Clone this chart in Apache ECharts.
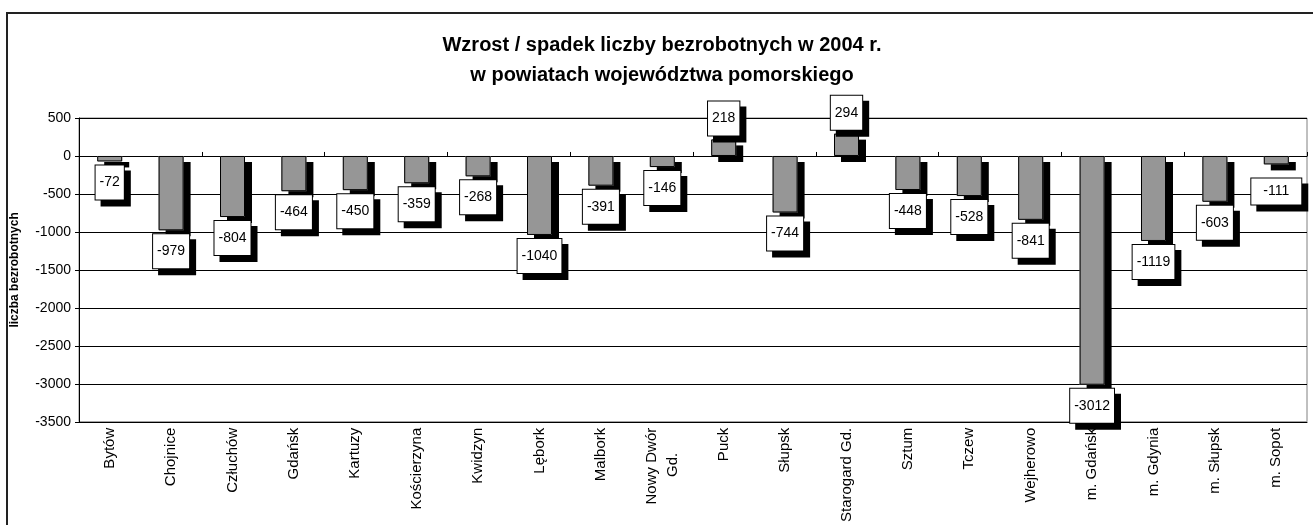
<!DOCTYPE html>
<html lang="pl">
<head>
    <meta charset="UTF-8"/>
    <title>Wzrost / spadek liczby bezrobotnych</title>
    <script src="https://cdn.jsdelivr.net/npm/echarts@6/dist/echarts.min.js"></script>
    <style>
        html, body { margin: 0; padding: 0; background: #fff; }
    </style>
</head>
<body>
<div id="main" style="width: 1313px;height: 525px;"></div>
<script type="text/javascript">
    // powiaty
    var categories = ['Bytów', 'Chojnice', 'Człuchów', 'Gdańsk', 'Kartuzy', 'Kościerzyna', 'Kwidzyn',
        'Lębork', 'Malbork', 'Nowy Dwór\nGd.      ', 'Puck', 'Słupsk', 'Starogard Gd.', 'Sztum', 'Tczew',
        'Wejherowo', 'm. Gdańsk', 'm. Gdynia', 'm. Słupsk', 'm. Sopot'];
    // zmiana liczby bezrobotnych
    var values = [-72, -979, -804, -464, -450, -359, -268, -1040, -391, -146, 218, -744, 294, -448, -528,
        -841, -3012, -1119, -603, -111];
    var yTicks = [-3500, 500, 500]; // min, max, krok

    var font = 'Arial, "Liberation Sans", sans-serif';

    var barData = [];
    for (var i = 0; i < values.length; i++) {
        var lbl = { position: values[i] < 0 ? 'bottom' : 'top' };
        if (values[i] === -111) {
            lbl.padding = [6, 12];
            lbl.distance = 14;
        }
        barData.push({ value: values[i], label: lbl });
    }

    var myChart = echarts.init(document.getElementById('main'));
    myChart.setOption({
        animation: false,
        textStyle: { fontFamily: font },
        title: {
            text: 'Wzrost / spadek liczby bezrobotnych w 2004 r.\nw powiatach województwa pomorskiego',
            left: 657,
            top: 25,
            textAlign: 'center',
            textStyle: {
                fontFamily: font,
                fontSize: 20,
                fontWeight: 'bold',
                color: '#000',
                lineHeight: 30
            }
        },
        graphic: [{
            type: 'rect',
            shape: { x: 7, y: 13, width: 1400, height: 700 },
            style: { fill: 'none', stroke: '#222', lineWidth: 2 },
            silent: true
        }],
        grid: {
            left: 79,
            right: 6,
            top: 118,
            bottom: 103,
            show: true,
            borderColor: '#808080',
            borderWidth: 1
        },
        xAxis: [{
            type: 'category',
            data: categories,
            position: 'bottom',
            axisLine: { onZero: false, lineStyle: { color: '#000' } },
            axisTick: { show: false },
            axisLabel: {
                interval: 0,
                rotate: 90,
                margin: 6,
                fontSize: 15,
                lineHeight: 21,
                color: '#000',
                fontFamily: font
            }
        }, {
            type: 'category',
            data: categories,
            position: 'top',
            axisLine: { onZero: true, lineStyle: { color: '#000', width: 1 } },
            axisTick: { show: true, length: 4, lineStyle: { color: '#000' } },
            axisLabel: { show: false }
        }],
        yAxis: {
            type: 'value',
            min: yTicks[0],
            max: yTicks[1],
            interval: yTicks[2],
            name: 'liczba bezrobotnych',
            nameLocation: 'middle',
            nameGap: 58,
            nameTextStyle: { fontSize: 12, fontWeight: 'bold', color: '#000', fontFamily: font },
            axisLine: { show: true, lineStyle: { color: '#000' } },
            axisTick: { show: true, length: 4, lineStyle: { color: '#000' } },
            axisLabel: {
                fontSize: 14,
                color: '#000',
                margin: 8,
                fontFamily: font,
                formatter: function (v) { return String(v); }
            },
            splitLine: { show: true, lineStyle: { color: '#000', width: 1 } }
        },
        series: [{
            // cień słupków
            type: 'bar',
            xAxisIndex: 0,
            data: values,
            barWidth: 25,
            silent: true,
            itemStyle: {
                color: '#969696',
                shadowColor: '#000',
                shadowBlur: 0,
                shadowOffsetX: 7,
                shadowOffsetY: 6
            }
        }, {
            type: 'bar',
            xAxisIndex: 0,
            data: barData,
            barWidth: 25,
            barGap: '-100%',
            itemStyle: {
                color: '#969696',
                borderColor: '#000',
                borderWidth: 1
            },
            label: {
                show: true,
                distance: 4,
                fontSize: 14,
                color: '#000',
                fontFamily: font,
                backgroundColor: '#fff',
                borderColor: '#000',
                borderWidth: 1,
                padding: [10, 4],
                shadowColor: '#000',
                shadowBlur: 0,
                shadowOffsetX: 6,
                shadowOffsetY: 6
            }
        }]
    });
</script>
</body>
</html>
